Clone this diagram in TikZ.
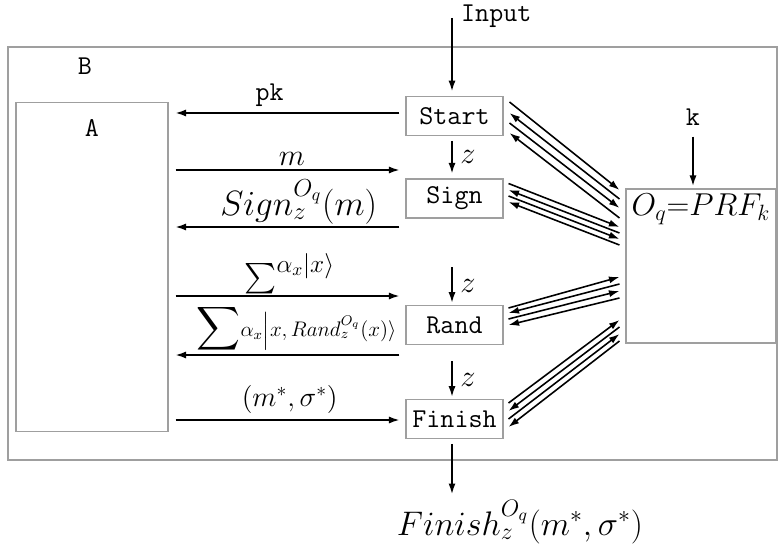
\RequirePackage{fix-cm}
\documentclass[tikz,border=0pt]{standalone}
\usepackage{amsmath,amssymb}
\usetikzlibrary{positioning,calc,arrows.meta}

\newcommand{\ttlbl}{\fontsize{15.5}{17}\ttfamily\selectfont}
\newcommand{\mlbl}{\fontsize{17.3}{19}\selectfont}
\newcommand{\biglbl}{\fontsize{20}{22}\selectfont}

\tikzset{
  frame/.style={draw=gray!75,line width=0.6pt},
  block/.style={frame,minimum width=1.94cm,minimum height=0.77cm,inner sep=0pt,font=\ttlbl},
  msg/.style={line width=0.9pt,-{Latex[length=6pt,width=4pt]}},
  fwd/.style={msg},
  bwd/.style={line width=0.9pt,{Latex[length=6pt,width=4pt]}-}
}

\begin{document}
\begin{tikzpicture}[x=0.02cm,y=-0.02cm]
\useasboundingbox (0,0) rectangle (778,544);

% outer box B and adversary box A
\draw[frame] (8,47) rectangle (777,460);
\node[font=\ttlbl] (labB) at (85,66) {B};
\node[frame,minimum width=3.04cm,minimum height=6.6cm] (advA) at (92,267) {};
\node[font=\ttlbl] (labA) at (92,128) {A};

% blocks
\node[block] (start) at (454.5,116) {Start};
\node[block,minimum height=0.78cm] (sign) at (454.5,198.5) {Sign};
\node[block] (rand) at (454.5,325) {Rand};
\node[block] (finish) at (454.5,419) {Finish};

% oracle
\node[frame,minimum width=3cm,minimum height=3.08cm] (prf) at (701,266) {};
\node[font=\fontsize{18}{20}\selectfont] (prflab) at (701,209) {$O_q{=}PRF_k$};

% inputs
\coordinate (intop) at (452,18);
\node[font=\ttlbl,anchor=west] (input) at (455,16) {Input};
\draw[msg,shorten >=1mm] (intop) -- (intop|-start.north);
\node[font=\ttlbl] (klab) at (693,117) {k};
\draw[msg,shorten <=1mm,shorten >=0.5mm] (klab) -- (klab|-prf.north);

% z arrows
\coordinate (zr) at (452,267);
\coordinate (zf) at (452,361);
\draw[msg,shorten <=1mm,shorten >=1mm] (intop|-start.south) -- (intop|-sign.north)
  node[midway,right,font=\mlbl,xshift=1pt] {$z$};
\draw[msg,shorten >=0.5mm] (zr) -- (zr|-rand.north)
  node[midway,right,font=\mlbl,xshift=1pt] {$z$};
\draw[msg,shorten >=0.5mm] (zf) -- (zf|-finish.north)
  node[midway,right,font=\mlbl,xshift=1pt] {$z$};

% output
\node[font=\fontsize{19.4}{21}\selectfont] (finout) at (520,522) {$Finish_z^{O_q}(m^*,\sigma^*)$};
\draw[msg,shorten <=1mm] (intop|-finish.south) -- (intop|-finout.north);

% messages between A and the blocks
\draw[msg] ($(start.west)+(-6,-3)$) -- ($(advA.east|-start.west)+(7,-3)$)
  node[pos=0.58,above,font=\ttlbl] {pk};
\draw[msg] ($(advA.east|-sign.west)+(7,-28.5)$) -- ($(sign.west)+(-6,-28.5)$)
  node[pos=0.52,above,font=\mlbl,inner sep=2pt] {$m$};
\draw[msg] ($(sign.west)+(-6,28.5)$) -- ($(advA.east|-sign.west)+(7,28.5)$)
  node[pos=0.45,above,font=\biglbl,inner sep=1pt] {$Sign_z^{O_q}(m)$};
\draw[msg] ($(advA.east|-rand.west)+(7,-29)$) -- ($(rand.west)+(-6,-29)$)
  node[pos=0.51,above,font=\mlbl,inner sep=0.5pt] {$\sum^{\text{\fontsize{14.4}{16}\selectfont$\alpha_x|x\rangle$}}$};
\draw[msg] ($(rand.west)+(-6,30)$) -- ($(advA.east|-rand.west)+(7,30)$)
  node[pos=0.46,above,font=\fontsize{12}{14}\selectfont,inner sep=0.5pt]
  {{\fontsize{17.3}{18}\selectfont$\displaystyle\sum$}$\alpha_x\Big|x,Rand_z^{O_q}(x)\rangle$};
\draw[msg] ($(advA.east|-finish.west)+(7,1)$) -- ($(finish.west)+(-6,1)$)
  node[pos=0.51,above,font=\fontsize{16}{18}\selectfont] {$(m^*,\sigma^*)$};

% oracle queries
\foreach \s/\o/\st in {-14/-76/fwd,-3/-67/bwd,7/-58/fwd,17/-48/bwd}
  \draw[\st] ($(start.east)+(6,\s)$) -- ($(prf.west)+(-6,\o)$);
\foreach \s/\o/\st in {-15/-39/fwd,-8.5/-33/bwd,-2.5/-27/fwd,3.5/-21/bwd}
  \draw[\st] ($(sign.east)+(5,\s)$) -- ($(prf.west)+(-6,\o)$);
\foreach \s/\o/\st in {-17/11/fwd,-12/18/bwd,-6/25/fwd,0/32/bwd}
  \draw[\st] ($(rand.east)+(5,\s)$) -- ($(prf.west)+(-6,\o)$);
\foreach \s/\o/\st in {-16/54/fwd,-8/61/bwd,0/68/fwd,8/75/bwd}
  \draw[\st] ($(finish.east)+(5,\s)$) -- ($(prf.west)+(-6,\o)$);
\end{tikzpicture}
\end{document}
